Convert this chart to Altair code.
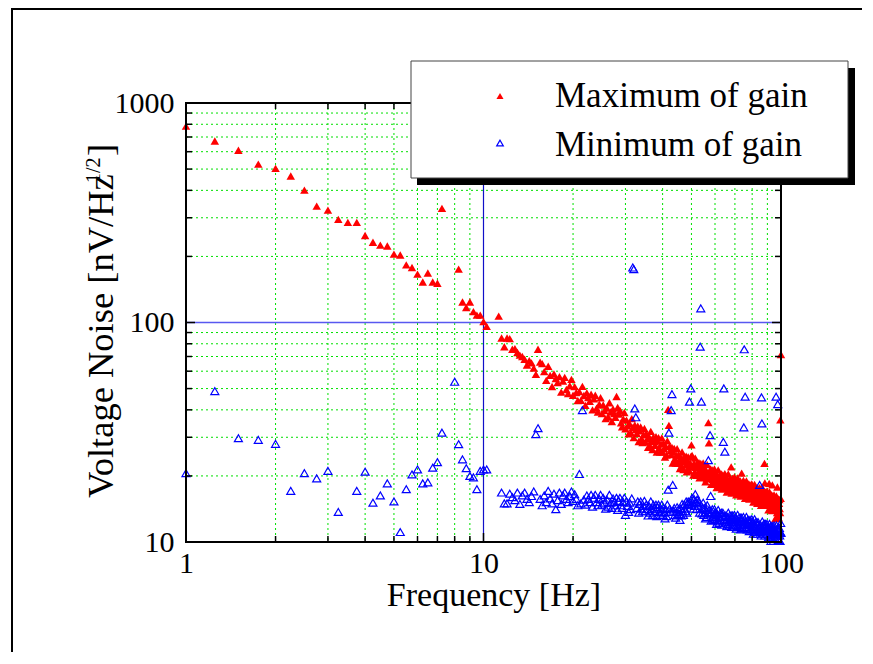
import altair as alt
import pandas as pd

FONT = "Liberation Serif"
W, H = 595, 439

# ---------------- data ----------------
# Maximum of gain, low frequencies (Hz, nV/Hz^1/2)
max_low_f = [1.0, 1.25, 1.5, 1.75, 2.0, 2.25, 2.5, 2.75, 3.0, 3.25, 3.5, 3.75, 4.0,
             4.25, 4.5, 4.75, 5.0, 5.25, 5.5, 5.75, 6.0, 6.25, 6.5, 6.75, 7.0, 7.25,
             8.25, 8.5, 8.75, 9.0, 9.25, 9.5, 9.75, 10.0, 10.25, 11.25]
max_low_v = [785, 671, 609, 527, 504, 465, 401, 339, 325, 295, 286, 286, 249,
             232, 225, 223, 205, 203, 183, 178, 166, 153, 168, 153, 151, 331,
             175, 124, 117, 124, 112, 108, 108, 101, 96, 107]

# Minimum of gain, low frequencies
min_low_f = [1.0, 1.25, 1.5, 1.75, 2.0, 2.25, 2.5, 2.75, 3.0, 3.25, 3.75, 4.0,
             4.25, 4.5, 4.75, 5.0, 5.25, 5.5, 5.75, 6.0, 6.25, 6.5, 6.75, 7.0, 7.25,
             8.0, 8.25, 8.5, 8.75, 9.0, 9.25, 9.5, 9.75, 10.0, 10.25]
min_low_v = [20.6, 48.7, 29.7, 29.2, 28.0, 17.1, 20.6, 19.5, 21.1, 13.7, 17.1, 20.9,
             15.1, 16.3, 18.5, 15.3, 11.1, 17.4, 20.3, 21.4, 18.5, 18.7, 21.8, 23.1, 31.5,
             53.7, 27.9, 23.8, 21.7, 20.0, 19.7, 17.4, 21.1, 21.4, 21.4]

# 0.25 Hz bins from 11 Hz upward: one row per Hz (.00, .25, .50, .75)
ROW_START = 11
max_rows = [
    [None, None, 85, 77.5], [85, 84.5, 75.5, 76], [73, 71, 70, 68], [64, 67, 65.5, 62],      # 11-14
    [58, 75.5, 66, 65], [59.7, 54.5, 63.2, 57.4], [51.1, 58.3, 55.5, 53.3],                   # 15-17
    [56.7, 48.2, 54.1, 56.2], [49.5, 47.4, 51.5, 55.1], [46.6, 51.0, 48.0, 44.1],             # 18-20
    [48.4, 44.2, 51.2, 46.5], [41.9, 47.8, 45.5, 43.7], [47.1, 40.0, 44.9, 46.6],             # 21-23
    [40.7, 39.1, 42.4, 45.4], [38.5, 42.1, 39.7, 36.5], [40.7, 37.1, 43.1, 39.1],             # 24-26
    [35.4, 40.4, 38.5, 37.0], [46, 41, 38.3, 39.8], [34.9, 33.5, 36.4, 38.9],                 # 27-29
    [32.8, 35.9, 33.8, 31.1], [34.5, 31.5, 36.5, 33.2], [29.9, 34.1, 32.5, 31.2],             # 30-32
    [33.7, 28.7, 32.1, 33.4], [29.6, 28.4, 30.8, 32.9], [28.5, 31.2, 29.4, 27.0],             # 33-35
    [30.2, 27.5, 31.9, 29.0], [26.4, 30.1, 28.7, 27.6], [30.2, 25.7, 28.8, 29.9],             # 36-38
    [26.8, 25.7, 27.9, 29.8], [25.7, 28.2, 26.6, 24.4], [27.3, 24.9, 28.9, 40.2],             # 39-41
    [34, 27.3, 26.0, 25.0], [27.0, 22.9, 25.7, 26.7], [23.9, 22.9, 24.8, 26.6],               # 42-44
    [22.8, 25.0, 23.5, 21.6], [24.3, 22.2, 25.7, 23.4], [21.4, 24.5, 23.3, 22.4],             # 45-47
    [24.6, 20.9, 23.5, 24.4], [22.0, 21.1, 22.9, 24.5], [27.7, 24.8, 22.0, 20.2],             # 48-50
    [22.8, 20.8, 24.1, 21.9], [20.1, 22.9, 21.8, 20.9], [23.0, 19.6, 21.9, 22.8],             # 51-53
    [20.6, 19.7, 21.4, 22.9], [19.9, 21.7, 20.5, 18.8], [21.2, 19.4, 22.5, 20.4],             # 54-56
    [35, 28.3, 20.3, 19.5], [21.5, 18.3, 20.5, 21.3], [19.3, 18.5, 20.1, 21.5],               # 57-59
    [18.7, 20.5, 19.3, 17.7], [20.1, 18.3, 21.3, 19.3], [17.8, 20.3, 19.3, 18.5],             # 60-62
    [20.4, 17.4, 19.5, 20.2], [18.4, 17.7, 19.2, 20.5], [17.9, 19.6, 18.4, 16.9],             # 63-65
    [19.3, 17.6, 20.4, 18.5], [17.0, 19.4, 18.5, 17.8], [22.0, 16.7, 18.8, 19.5],             # 66-68
    [17.8, 17.0, 18.5, 19.8], [17.3, 18.9, 17.8, 16.4], [18.5, 16.9, 19.6, 17.8],             # 69-71
    [16.5, 18.8, 17.9, 17.2], [19.0, 16.2, 18.2, 20.6], [17.2, 16.5, 17.9, 19.1],             # 72-74
    [16.6, 18.2, 17.2, 15.8], [17.9, 16.4, 19.0, 17.2], [15.9, 18.2, 17.3, 16.6],             # 75-77
    [18.4, 15.7, 17.5, 18.2], [16.5, 15.8, 17.2, 18.4], [16.1, 17.6, 16.6, 15.2],             # 78-80
    [17.3, 15.8, 18.3, 16.6], [15.4, 17.5, 16.7, 16.0], [17.7, 15.0, 16.8, 17.5],             # 81-83
    [15.9, 15.3, 16.6, 17.7], [15.5, 17.0, 16.0, 14.7], [16.7, 15.2, 17.7, 16.0],             # 84-86
    [14.7, 16.8, 16.0, 15.4], [22.8, 18.6, 16.2, 16.9], [15.3, 14.7, 16.0, 17.1],             # 87-89
    [14.8, 16.2, 15.3, 14.0], [16.0, 18.5, 16.9, 15.3], [14.2, 16.2, 15.4, 14.8],             # 90-92
    [16.4, 13.9, 18.2, 16.2], [14.7, 14.1, 15.4, 16.4], [14.3, 15.6, 14.7, 12.8],             # 93-95
    [15.3, 14.0, 16.2, 13.0], [13.6, 17.8, 14.8, 14.2], [15.7, 12.9, 15.0, 15.6],             # 96-98
    [14.2, 13.6, 36, 15.8], [71.5, None, None, None],                                         # 99-100
]
min_rows = [
    [None, None, 16.8, 15.0], [15.0, 16.6, 16.0, 15.5], [16.8, 14.9, 16.3, 16.8],             # 11-13
    [15.7, 15.2, 16.2, 17.0], [31.0, 33.0, 15.7, 14.7], [16.3, 15.2, 17.1, 15.8],             # 14-16
    [15.0, 16.6, 14.1, 15.5], [16.8, 14.9, 16.3, 16.8], [15.7, 15.2, 16.2, 17.0],             # 17-19
    [15.4, 16.5, 15.7, 14.7], [20.4, 15.0, 39.9, 15.6], [14.8, 16.3, 15.7, 15.2],             # 20-22
    [16.4, 14.5, 15.9, 16.4], [15.2, 14.7, 15.7, 16.4], [14.8, 15.9, 15.1, 14.2],             # 23-25
    [15.6, 14.5, 16.4, 15.1], [14.3, 15.8, 15.2, 14.7], [15.9, 14.0, 15.4, 15.9],             # 26-28
    [14.7, 14.3, 15.2, 15.9], [13.3, 15.3, 14.6, 13.7], [15.1, 14.1, 15.8, 178.0],            # 29-31
    [175.0, 40.6, 37.0, 14.3], [15.3, 13.6, 14.9, 15.3], [14.2, 13.8, 14.6, 15.4],            # 32-34
    [13.8, 14.8, 14.1, 13.2], [14.6, 13.6, 15.3, 14.2], [13.3, 14.8, 14.2, 13.8],             # 35-37
    [14.8, 13.1, 14.4, 14.8], [13.7, 13.3, 14.1, 14.8], [13.3, 14.3, 13.6, 12.8],             # 38-40
    [14.1, 13.1, 14.8, 17.3], [31.5, 14.2, 13.7, 39.9], [47.2, 18.2, 13.9, 14.3],             # 41-43
    [13.3, 12.9, 13.7, 14.4], [13.2, 14.1, 13.4, 12.6], [14.2, 13.2, 14.9, 13.8],             # 44-46
    [13.3, 14.8, 14.2, 13.8], [15.3, 13.6, 14.9, 15.3], [14.7, 43.6, 15.2, 50.1],             # 47-49
    [14.8, 15.9, 15.1, 14.2], [15.7, 14.6, 16.5, 15.2], [14.1, 15.6, 15.0, 14.6],             # 50-52
    [15.3, 13.6, 77.6, 116.0], [43.6, 13.5, 14.3, 15.1], [13.3, 14.3, 13.6, 12.8],            # 53-55
    [14.0, 13.0, 14.7, 13.6], [23.6, 14.0, 13.5, 30.7], [16.2, 12.5, 13.7, 14.1],             # 56-58
    [13.0, 12.6, 13.4, 14.1], [12.7, 13.6, 12.9, 12.1], [13.4, 12.4, 14.0, 13.0],             # 59-61
    [12.2, 13.5, 13.0, 12.6], [13.6, 12.0, 13.2, 13.6], [28.6, 50.1, 13.0, 25.8],             # 62-64
    [12.3, 13.2, 12.5, 11.8], [13.0, 12.1, 13.6, 12.6], [11.9, 13.2, 12.7, 12.3],             # 65-67
    [13.2, 11.7, 12.9, 13.2], [12.3, 11.9, 12.7, 13.3], [12.0, 12.9, 12.3, 11.5],             # 68-70
    [12.7, 11.8, 13.3, 12.3], [11.7, 12.9, 12.4, 12.0], [12.9, 11.4, 12.5, 12.9],             # 71-73
    [12.0, 11.6, 12.4, 13.0], [33.3, 75.5, 12.0, 45.9], [12.4, 11.5, 13.0, 12.0],             # 74-76
    [11.4, 12.6, 12.1, 11.7], [12.6, 11.2, 12.2, 12.6], [11.7, 11.4, 12.1, 12.7],             # 77-79
    [11.4, 12.3, 11.7, 10.9], [12.1, 11.3, 12.7, 11.7], [11.1, 12.3, 11.8, 11.4],             # 80-82
    [12.3, 10.9, 12.0, 12.3], [11.5, 11.1, 11.8, 18.2], [11.2, 12.0, 11.4, 10.7],             # 83-85
    [45.6, 34.7, 12.4, 11.5], [10.9, 12.0, 11.6, 11.2], [12.1, 10.7, 11.7, 12.1],             # 86-88
    [11.2, 10.9, 11.6, 12.1], [10.9, 11.7, 11.2, 10.5], [11.6, 10.8, 12.1, 11.2],             # 89-91
    [10.6, 11.8, 10.1, 11.0], [11.8, 10.5, 11.5, 11.8], [11.0, 10.1, 11.3, 11.9],             # 92-94
    [10.7, 11.5, 10.9, 10.3], [11.3, 45.9, 11.9, 11.0], [10.4, 11.5, 42.5, 10.7],             # 95-97
    [11.6, 10.2, 11.2, 11.6], [10.7, 10.1, 11.1, 12.2], [11.0, None, None, None],             # 98-100
]

x_labels = [1, 10, 100]
y_labels = [10, 100, 1000]
x_minor = [2, 3, 4, 5, 6, 7, 8, 9, 20, 30, 40, 50, 60, 70, 80, 90]
y_minor = [20, 30, 40, 50, 60, 70, 80, 90, 200, 300, 400, 500, 600, 700, 800, 900]
x_mid = [10]
y_mid = [100]


def table(low_f, low_v, rows):
    f, v = list(low_f), list(low_v)
    for i, row in enumerate(rows):
        for k, val in enumerate(row):
            if val is not None:
                f.append(ROW_START + i + 0.25 * k)
                v.append(val)
    return pd.DataFrame({"f": f, "v": v})


df_max = table(max_low_f, max_low_v, max_rows)
df_min = table(min_low_f, min_low_v, min_rows)

xs = alt.Scale(type="log", domain=[1, 100], nice=False)
ys = alt.Scale(type="log", domain=[10, 1000], nice=False)
xaxis = alt.Axis(values=x_labels, format="d", labelFont=FONT, labelFontSize=30, labelColor="black",
                 labelPadding=6, ticks=False, domain=False, grid=False, title=None,
                 labelFlush=False, labelOverlap=False)
yaxis = alt.Axis(values=y_labels, format="d", labelFont=FONT, labelFontSize=30, labelColor="black",
                 labelPadding=12, ticks=False, domain=False, grid=False, title=None,
                 labelFlush=False, labelOverlap=False)

one = pd.DataFrame({"a": [0]})
gx = pd.DataFrame({"g": x_minor})
gy = pd.DataFrame({"g": y_minor})

grid_v = alt.Chart(gx).mark_rule(color="#00e000", strokeDash=[2, 3], strokeWidth=1).encode(
    x=alt.X("g:Q", scale=xs, axis=xaxis), y=alt.value(0), y2=alt.value(H))
grid_h = alt.Chart(gy).mark_rule(color="#00e000", strokeDash=[2, 3], strokeWidth=1).encode(
    y=alt.Y("g:Q", scale=ys, axis=yaxis), x=alt.value(0), x2=alt.value(W))
line10 = alt.Chart(pd.DataFrame({"g": x_mid})).mark_rule(color="#1010c8", strokeWidth=1.2).encode(
    x=alt.X("g:Q", scale=xs, axis=xaxis), y=alt.value(0), y2=alt.value(H))
line100 = alt.Chart(pd.DataFrame({"g": y_mid})).mark_rule(color="#5858f0", strokeWidth=1.5).encode(
    y=alt.Y("g:Q", scale=ys, axis=yaxis), x=alt.value(0), x2=alt.value(W))

pts_max = alt.Chart(df_max).mark_point(shape="triangle-up", filled=True, color="#ff0000",
                                       size=72, opacity=1).encode(
    x=alt.X("f:Q", scale=xs, axis=xaxis), y=alt.Y("v:Q", scale=ys, axis=yaxis))
pts_min = alt.Chart(df_min).mark_point(shape="triangle-up", filled=False, color="#0000ff",
                                       size=64, strokeWidth=1.2, opacity=1).encode(
    x=alt.X("f:Q", scale=xs, axis=xaxis), y=alt.Y("v:Q", scale=ys, axis=yaxis))

frame = alt.Chart(one).mark_rect(filled=False, stroke="black", strokeWidth=2).encode(
    x=alt.value(0), x2=alt.value(W), y=alt.value(0), y2=alt.value(H))


def ticks_x(vals, length):
    d = pd.DataFrame({"g": vals})
    bot = alt.Chart(d).mark_rule(color="black", strokeWidth=1.5).encode(
        x=alt.X("g:Q", scale=xs, axis=xaxis), y=alt.value(H), y2=alt.value(H - length))
    top = alt.Chart(d).mark_rule(color="black", strokeWidth=1.5).encode(
        x=alt.X("g:Q", scale=xs, axis=xaxis), y=alt.value(0), y2=alt.value(length))
    return [bot, top]


def ticks_y(vals, length):
    d = pd.DataFrame({"g": vals})
    lef = alt.Chart(d).mark_rule(color="black", strokeWidth=1.5).encode(
        y=alt.Y("g:Q", scale=ys, axis=yaxis), x=alt.value(0), x2=alt.value(length))
    rig = alt.Chart(d).mark_rule(color="black", strokeWidth=1.5).encode(
        y=alt.Y("g:Q", scale=ys, axis=yaxis), x=alt.value(W), x2=alt.value(W - length))
    return [lef, rig]


tick_layers = ticks_x(x_minor, 6) + ticks_x(x_mid, 9) + ticks_y(y_minor, 6) + ticks_y(y_mid, 9)

# axis titles
x_title = alt.Chart(one).mark_text(text="Frequency [Hz]", font=FONT, fontSize=34, color="black",
                                   align="center", baseline="alphabetic").encode(
    x=alt.value(308), y=alt.value(503))
y_title_main = alt.Chart(one).mark_text(text="Voltage Noise [nV/Hz", font=FONT, fontSize=36.5,
                                        color="black", angle=270, align="left",
                                        baseline="alphabetic").encode(
    x=alt.value(-73), y=alt.value(395))
y_title_sup = alt.Chart(one).mark_text(text="1/2", font=FONT, fontSize=20, color="black",
                                       angle=270, align="left", baseline="alphabetic").encode(
    x=alt.value(-86), y=alt.value(80))
y_title_end = alt.Chart(one).mark_text(text="]", font=FONT, fontSize=36.5, color="black",
                                       angle=270, align="left", baseline="alphabetic").encode(
    x=alt.value(-73), y=alt.value(53))

# legend box with drop shadow
leg_shadow = alt.Chart(one).mark_rect(fill="black").encode(
    x=alt.value(231), x2=alt.value(669), y=alt.value(-35), y2=alt.value(82))
leg_box = alt.Chart(one).mark_rect(fill="white", stroke="#444444", strokeWidth=1).encode(
    x=alt.value(225), x2=alt.value(662), y=alt.value(-42), y2=alt.value(75))
leg_sym_max = alt.Chart(one).mark_point(shape="triangle-up", filled=True, color="#ff0000",
                                        size=50, opacity=1).encode(x=alt.value(314), y=alt.value(-7))
leg_sym_min = alt.Chart(one).mark_point(shape="triangle-up", filled=False, color="#0000ff",
                                        size=44, strokeWidth=1.2, opacity=1).encode(
    x=alt.value(314), y=alt.value(40))
leg_txt_max = alt.Chart(one).mark_text(text="Maximum of gain", font=FONT, fontSize=35, color="black",
                                       align="left", baseline="alphabetic").encode(
    x=alt.value(369), y=alt.value(4))
leg_txt_min = alt.Chart(one).mark_text(text="Minimum of gain", font=FONT, fontSize=35, color="black",
                                       align="left", baseline="alphabetic").encode(
    x=alt.value(369), y=alt.value(53))

# outer page frame (top and left edges)
frame_top = alt.Chart(one).mark_rule(color="black", strokeWidth=2).encode(
    x=alt.value(-174), x2=alt.value(676), y=alt.value(-94))
frame_left = alt.Chart(one).mark_rule(color="black", strokeWidth=2).encode(
    x=alt.value(-174), y=alt.value(-95), y2=alt.value(549))

chart = alt.layer(
    grid_v, grid_h, line10, line100, pts_max, pts_min, frame, *tick_layers,
    x_title, y_title_main, y_title_sup, y_title_end,
    leg_shadow, leg_box, leg_sym_max, leg_sym_min, leg_txt_max, leg_txt_min,
    frame_top, frame_left,
).properties(
    width=W, height=H,
    padding={"left": 178, "top": 95, "right": 84, "bottom": 110},
    autosize=alt.AutoSizeParams(type="none"),
).configure_view(stroke=None)

chart.save("out.html", embed_options={"renderer": "svg", "actions": False})
